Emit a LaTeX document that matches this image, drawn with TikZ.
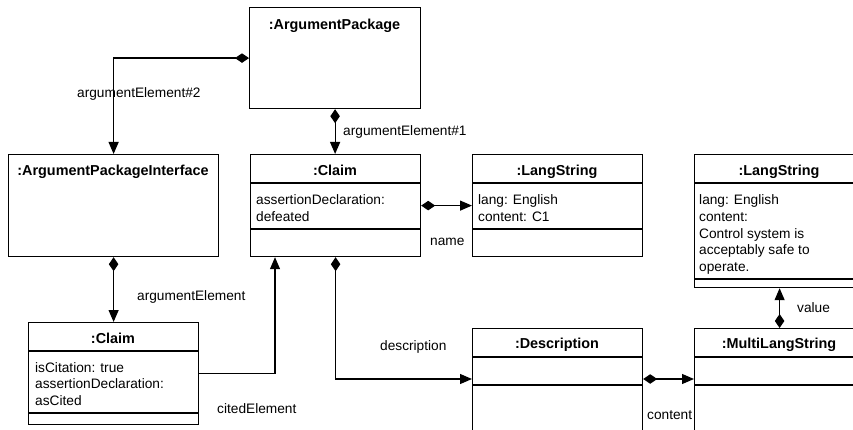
\documentclass[tikz,border=0pt]{standalone}
\usepackage{fontspec}
\setmainfont{Liberation Sans}
\usetikzlibrary{arrows.meta,calc}
\begin{document}
\begin{tikzpicture}[x=1pt,y=-1pt,
  box/.style={draw, line width=1.2pt, inner sep=0pt, anchor=north west},
  sepline/.style={line width=1.2pt},
  hdr/.style={font=\bfseries\fontsize{14.4}{17}\selectfont, anchor=base, inner sep=0pt},
  attr/.style={font=\fontsize{13.7}{16.5}\selectfont, anchor=base west, inner sep=0pt},
  lbl/.style={font=\fontsize{13.7}{16.5}\selectfont, anchor=base west, inner sep=0pt},
  comp/.style={line width=1.2pt, {Diamond[length=14pt,width=9.5pt]}-{Triangle[length=12pt,width=10pt]}},
  assoc/.style={line width=1.2pt, -{Triangle[length=12pt,width=10pt]}}]
\path[use as bounding box] (0,0) rectangle (853,430);
\clip (0,0) rectangle (853,430);

% boxes
\node[box, minimum width=171pt, minimum height=101pt] (ap) at (249,7) {};
\node[hdr] (apT) at (334.5,29.3) {:ArgumentPackage};

\node[box, minimum width=210pt, minimum height=102pt] (api) at (8,154) {};
\node[hdr] (apiT) at (113,176) {:ArgumentPackageInterface};

\node[box, minimum width=170pt, minimum height=102pt] (cl) at (250,154) {};
\draw[sepline] (250,183) -- (420,183);
\draw[sepline] (250,229) -- (420,229);
\node[hdr] (clT) at (335,176) {:Claim};
\node[attr] (clA1) at (256,205) {assertionDeclaration:};
\node[attr] (clA2) at (256,221.5) {defeated};

\node[box, minimum width=170pt, minimum height=102pt] (ls1) at (472,154) {};
\draw[sepline] (472,183) -- (642,183);
\draw[sepline] (472,229) -- (642,229);
\node[hdr] (ls1T) at (557,176) {:LangString};
\node[attr] (ls1A1) at (478,205) {lang: English};
\node[attr] (ls1A2) at (478,221.5) {content: C1};

\node[box, minimum width=170pt, minimum height=133pt] (ls2) at (694,154) {};
\draw[sepline] (694,183) -- (864,183);
\draw[sepline] (694,279) -- (864,279);
\node[hdr] (ls2T) at (779,176) {:LangString};
\node[attr] (ls2A1) at (699,205) {lang: English};
\node[attr] (ls2A2) at (699,221.5) {content:};
\node[attr] (ls2A3) at (699,238) {Control system is};
\node[attr] (ls2A4) at (699,254.5) {acceptably safe to};
\node[attr] (ls2A5) at (699,271) {operate.};

\node[box, minimum width=170pt, minimum height=102pt] (c2) at (28,322) {};
\draw[sepline] (28,351) -- (198,351);
\draw[sepline] (28,413) -- (198,413);
\node[hdr] (c2T) at (113,343.5) {:Claim};
\node[attr] (c2A1) at (35,372) {isCitation: true};
\node[attr] (c2A2) at (35,388.5) {assertionDeclaration:};
\node[attr] (c2A3) at (35,405) {asCited};

\node[box, minimum width=170pt, minimum height=130pt] (desc) at (472,328) {};
\draw[sepline] (472,357) -- (642,357);
\draw[sepline] (472,385) -- (642,385);
\node[hdr] (descT) at (557,348) {:Description};

\node[box, minimum width=170pt, minimum height=130pt] (mls) at (694,328) {};
\draw[sepline] (694,357) -- (864,357);
\draw[sepline] (694,385) -- (864,385);
\node[hdr] (mlsT) at (779,348) {:MultiLangString};

% connectors
\draw[comp] (ap.west) -| (api.north);
\draw[comp] (ap.south) -- (ap.south |- cl.north);
\draw[comp] (cl.east) -- (cl.east -| ls1.west);
\draw[comp] (api.south) -- (c2.north);
\coordinate (citeEnd) at ($(cl.south west)+(25,0)$);
\draw[assoc] (c2.east) -| (citeEnd);
\coordinate (descIn) at ($(desc.north west)+(0,51)$);
\draw[comp] (cl.south) |- (descIn);
\coordinate (descOut) at ($(desc.north east)+(0,51)$);
\coordinate (mlsIn) at ($(mls.north west)+(0,51)$);
\draw[comp] (descOut) -- (mlsIn);
\draw[comp] (mls.north) -- (ls2.south);

% labels
\node[lbl] (l1) at (77,97.5) {argumentElement\#2};
\node[lbl] (l2) at (343,136) {argumentElement\#1};
\node[lbl] (l3) at (430,245) {name};
\node[lbl] (l4) at (137,300.5) {argumentElement};
\node[lbl] (l5) at (217,413) {citedElement};
\node[lbl] (l6) at (380,350) {description};
\node[lbl] (l7) at (647,419) {content};
\node[lbl] (l8) at (797,312.5) {value};
\end{tikzpicture}
\end{document}
